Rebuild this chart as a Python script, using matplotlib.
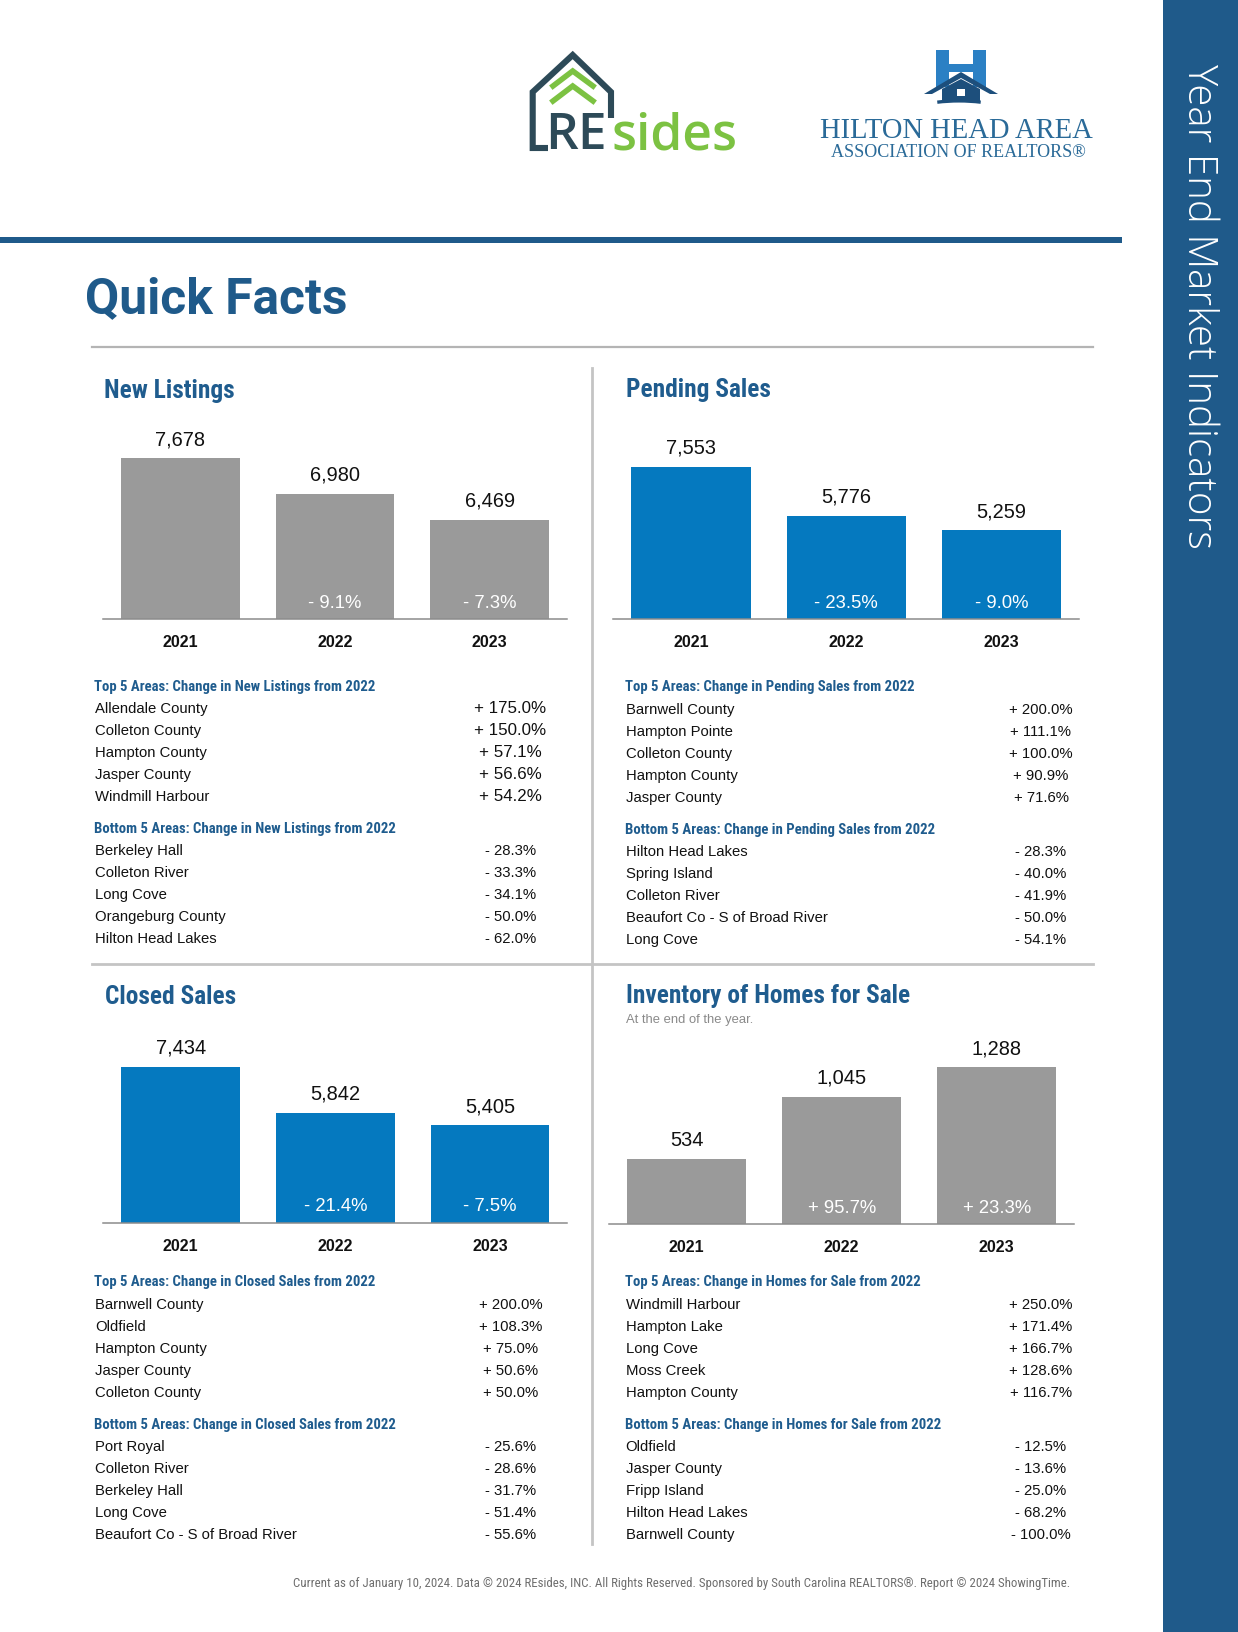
import matplotlib
matplotlib.use("Agg")
import matplotlib.pyplot as plt
from matplotlib.patches import Rectangle, Polygon, Arc

W, H = 1238, 1632
PT = 72 / 100.0  # px -> pt at dpi 100

# ---------------- data ----------------
years = ["2021", "2022", "2023"]

new_listings = [7678, 6980, 6469]
new_listings_chg = [None, -9.1, -7.3]
pending_sales = [7553, 5776, 5259]
pending_sales_chg = [None, -23.5, -9.0]
closed_sales = [7434, 5842, 5405]
closed_sales_chg = [None, -21.4, -7.5]
inventory = [534, 1045, 1288]
inventory_chg = [None, 95.7, 23.3]

nl_top_names = ["Allendale County", "Colleton County", "Hampton County", "Jasper County", "Windmill Harbour"]
nl_top_chg = [175.0, 150.0, 57.1, 56.6, 54.2]
nl_bot_names = ["Berkeley Hall", "Colleton River", "Long Cove", "Orangeburg County", "Hilton Head Lakes"]
nl_bot_chg = [-28.3, -33.3, -34.1, -50.0, -62.0]

ps_top_names = ["Barnwell County", "Hampton Pointe", "Colleton County", "Hampton County", "Jasper County"]
ps_top_chg = [200.0, 111.1, 100.0, 90.9, 71.6]
ps_bot_names = ["Hilton Head Lakes", "Spring Island", "Colleton River", "Beaufort Co - S of Broad River", "Long Cove"]
ps_bot_chg = [-28.3, -40.0, -41.9, -50.0, -54.1]

cs_top_names = ["Barnwell County", "Oldfield", "Hampton County", "Jasper County", "Colleton County"]
cs_top_chg = [200.0, 108.3, 75.0, 50.6, 50.0]
cs_bot_names = ["Port Royal", "Colleton River", "Berkeley Hall", "Long Cove", "Beaufort Co - S of Broad River"]
cs_bot_chg = [-25.6, -28.6, -31.7, -51.4, -55.6]

inv_top_names = ["Windmill Harbour", "Hampton Lake", "Long Cove", "Moss Creek", "Hampton County"]
inv_top_chg = [250.0, 171.4, 166.7, 128.6, 116.7]
inv_bot_names = ["Oldfield", "Jasper County", "Fripp Island", "Hilton Head Lakes", "Barnwell County"]
inv_bot_chg = [-12.5, -13.6, -25.0, -68.2, -100.0]

# ---------------- styles ----------------
SANS = ["Liberation Sans", "DejaVu Sans"]
NARROW = ["Roboto Condensed", "Liberation Sans", "DejaVu Sans"]
NAVY = "#1f5a8a"
HEAD = "#1f5c8e"
GRAY_BAR = "#9a9a9a"
BLUE_BAR = "#0579bf"
SEP = "#c4c4c4"


def fmt_pct(v):
    return f"{'+' if v > 0 else '-'} {abs(v):.1f}%"


fig = plt.figure(figsize=(W / 100, H / 100), dpi=100)
fig.patch.set_facecolor("white")

ov = fig.add_axes([0, 0, 1, 1])
ov.set_xlim(0, W)
ov.set_ylim(H, 0)
ov.axis("off")
ov.set_zorder(0)

# right band and top rule
ov.add_patch(Rectangle((1163, 0), W - 1163, H, color=NAVY, lw=0))
ov.add_patch(Rectangle((0, 237), 1122, 6, color=NAVY, lw=0))
ov.text(1199, 64, "Year End Market Indicators", rotation=270, ha="center", va="top",
        color="white", fontsize=29, family=["Open Sans", "DejaVu Sans"], fontweight="light")

# ---------------- logos ----------------
ov.plot([611, 611, 572.7, 532.7, 532.7, 548], [118, 92, 55, 92, 148, 148],
        color="#2d4a58", lw=4.4, solid_joinstyle="miter", solid_capstyle="butt")
ov.plot([553, 572.7, 593], [86, 71, 86], color="#7cc242", lw=4.0, solid_joinstyle="miter")
ov.plot([553, 572.7, 593], [101, 86, 101], color="#7cc242", lw=4.0, solid_joinstyle="miter")
ov.text(545, 149, "RE", ha="left", va="baseline", fontsize=37, color="#2d4a58",
        family=["Open Sans", "DejaVu Sans"], fontweight="semibold")
ov.text(612, 149, "sides", ha="left", va="baseline", fontsize=37, color="#7cc242",
        family=["Open Sans", "DejaVu Sans"], fontweight="semibold")

# Hilton Head icon
HB = "#2b80c4"
HD = "#1d4f7c"
ov.add_patch(Rectangle((936, 50), 13, 37, color=HB, lw=0))
ov.add_patch(Rectangle((973, 50), 13, 37, color=HB, lw=0))
ov.add_patch(Rectangle((936, 64), 50, 8, color=HB, lw=0))
ov.add_patch(Polygon([(924, 94), (961, 72), (998, 94), (990, 94), (961, 78), (932, 94)], closed=True,
                     color=HD, lw=0))
ov.add_patch(Polygon([(942, 89), (961, 79), (980, 89), (980, 102), (942, 102)], closed=True,
                     color=HD, lw=0))
ov.add_patch(Rectangle((957, 89), 8, 7, color="white", lw=0))
ov.add_patch(Arc((959, 117.4), 112, 33, theta1=215, theta2=325, color=HD, lw=2.4))
ov.text(956, 138.5, "HILTON HEAD AREA", ha="center", va="baseline", fontsize=20.6,
        color="#2a6a98", family=["Liberation Serif", "DejaVu Serif"])
ov.text(958, 157, "ASSOCIATION OF REALTORS®", ha="center", va="baseline", fontsize=13,
        color="#2a6a98", family=["Liberation Serif", "DejaVu Serif"])

# ---------------- title & separators ----------------
ov.text(85, 313, "Quick Facts", ha="left", va="baseline", fontsize=35.8, fontweight="bold",
        color=NAVY, family=["Roboto", "DejaVu Sans"])
ov.plot([92, 1093], [347, 347], color="#b4b4b4", lw=1.6)
ov.plot([92, 1093], [964, 964], color=SEP, lw=2.0)
ov.plot([591.5, 591.5], [368, 1544], color=SEP, lw=2.0)

# section titles
for (tx, ty, t) in [(104, 398, "New Listings"), (626, 397, "Pending Sales"),
                    (105, 1004, "Closed Sales"), (626, 1003, "Inventory of Homes for Sale")]:
    ov.text(tx, ty, t, ha="left", va="baseline", fontsize=18.3, fontweight="bold",
            color=HEAD, family=NARROW)
ov.text(626, 1023, "At the end of the year.", ha="left", va="baseline", fontsize=9.4,
        color="#8a8a8a", family=SANS)


# ---------------- bar charts ----------------
def bar_chart(left, right, base_y, values, chg, color, ymin, upp):
    h = 240
    ax = fig.add_axes([left / W, 1 - base_y / H, (right - left) / W, h / H])
    ax.patch.set_alpha(0)
    ax.bar(range(len(values)), values, width=0.768, color=color, zorder=2)
    ax.set_xlim(-0.5, len(values) - 0.5)
    ax.set_ylim(ymin, ymin + h * upp)
    for s in ["top", "left", "right"]:
        ax.spines[s].set_visible(False)
    ax.spines["bottom"].set_color("#8c8c8c")
    ax.spines["bottom"].set_linewidth(1.1)
    ax.spines["bottom"].set_zorder(3)
    ax.set_xticks([])
    ax.set_yticks([])
    for i, v in enumerate(values):
        ax.annotate(f"{v:,}", (i, v), xytext=(0, 18.5 * PT), textcoords="offset points",
                    ha="center", va="center", fontsize=14.4, color="#111111", family=SANS,
                    annotation_clip=False)
        ax.annotate(years[i], (i, ymin), xytext=(0, -23.5 * PT), textcoords="offset points",
                    ha="center", va="center", fontsize=11.5, fontweight="bold", color="#111111",
                    family=SANS, annotation_clip=False)
        if chg[i] is not None:
            ax.annotate(fmt_pct(chg[i]), (i, ymin), xytext=(0, 15.8 * PT), textcoords="offset points",
                        ha="center", va="center", fontsize=13.3, color="white", family=SANS,
                        annotation_clip=False, zorder=4)
    return ax


bar_chart(102.9, 567.0, 619.3, new_listings, new_listings_chg, GRAY_BAR, 4508, 19.69)
bar_chart(613.3, 1079.3, 619.3, pending_sales, pending_sales_chg, BLUE_BAR, 2048, 36.07)
bar_chart(103.3, 567.3, 1222.7, closed_sales, closed_sales_chg, BLUE_BAR, 2041, 34.57)
bar_chart(609.0, 1074.3, 1224.3, inventory, inventory_chg, GRAY_BAR, 0, 8.196)


# ---------------- area lists ----------------
def area_list(x_name, x_val, y0, metric, top_names, top_chg, bot_names, bot_chg, top_val_size=10.7):
    ov.text(x_name - 1, y0, f"Top 5 Areas: Change in {metric} from 2022", ha="left", va="baseline",
            fontsize=10.6, fontweight="bold", color=HEAD, family=NARROW)
    for k, (n, c) in enumerate(zip(top_names, top_chg)):
        yy = y0 + 22.6 + 22 * k
        ov.text(x_name, yy, n, ha="left", va="baseline", fontsize=10.7, color="#111111", family=SANS)
        ov.text(x_val, yy, fmt_pct(c), ha="center", va="baseline", fontsize=top_val_size,
                color="#111111", family=SANS)
    yb = y0 + 142.6
    ov.text(x_name - 1, yb, f"Bottom 5 Areas: Change in {metric} from 2022", ha="left", va="baseline",
            fontsize=10.6, fontweight="bold", color=HEAD, family=NARROW)
    for k, (n, c) in enumerate(zip(bot_names, bot_chg)):
        yy = yb + 22 + 22 * k
        ov.text(x_name, yy, n, ha="left", va="baseline", fontsize=10.7, color="#111111", family=SANS)
        ov.text(x_val, yy, fmt_pct(c), ha="center", va="baseline", fontsize=10.7,
                color="#111111", family=SANS)


area_list(95, 510.5, 690.7, "New Listings", nl_top_names, nl_top_chg, nl_bot_names, nl_bot_chg,
          top_val_size=12.2)
area_list(625.7, 1041, 691.0, "Pending Sales", ps_top_names, ps_top_chg, ps_bot_names, ps_bot_chg)
area_list(95, 510.5, 1286.0, "Closed Sales", cs_top_names, cs_top_chg, cs_bot_names, cs_bot_chg)
area_list(625.7, 1041, 1286.0, "Homes for Sale", inv_top_names, inv_top_chg, inv_bot_names, inv_bot_chg)

# footer
ov.text(1070, 1587, "Current as of January 10, 2024. Data © 2024 REsides, INC. All Rights Reserved. "
        "Sponsored by South Carolina REALTORS®. Report © 2024 ShowingTime.",
        ha="right", va="baseline", fontsize=9.3, color="#6e6e6e", family=NARROW)

fig.savefig("out.png", dpi=100, facecolor="white")
